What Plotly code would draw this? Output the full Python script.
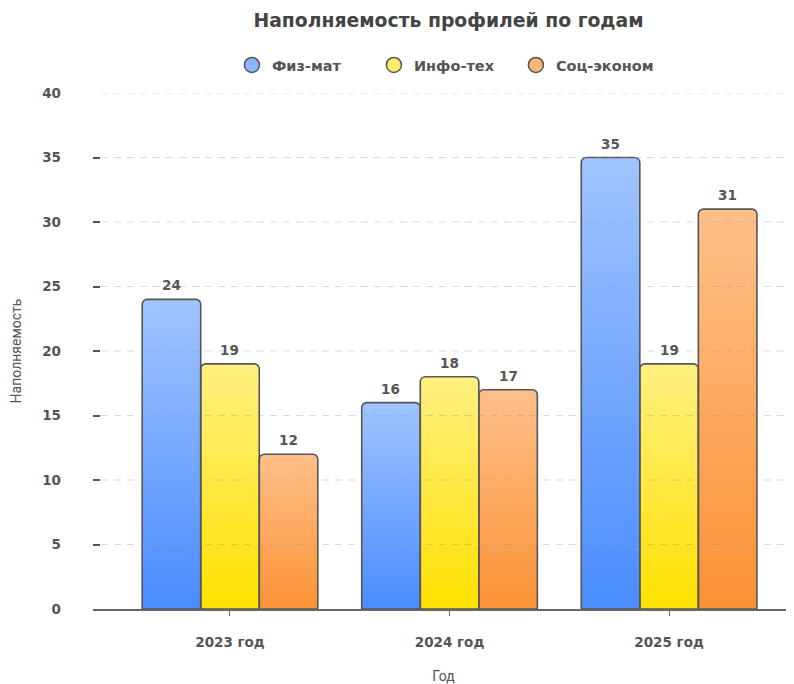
import numpy as np
import plotly.graph_objects as go

# ---------------- data ----------------
years = ["2023 год", "2024 год", "2025 год"]
series_names = ["Физ-мат", "Инфо-тех", "Соц-эконом"]
fizmat = [24, 16, 35]
infotech = [19, 18, 19]
soceco = [12, 17, 31]
y_ticks = [0, 5, 10, 15, 20, 25, 30, 35, 40]

chart_title = "Наполняемость профилей по годам"
x_title = "Год"
y_title = "Наполняемость"

# ---------------- style ----------------
top_colors = ["#a0c4ff", "#fff081", "#ffc08a"]
bottom_colors = ["#4a8cff", "#ffe100", "#fb9235"]
legend_colors = ["#8ab6ff", "#ffec6b", "#ffb478"]
outline = "#555555"
text_col = "#555555"
BOLD_FONT = "DejaVu Sans"
NORM_FONT = "Roboto"
BSIZE = 13.5

W, H = 794, 684
M_L, M_R, M_T, M_B = 85, 8, 85, 83
X_RANGE = [-0.624, 2.569]
Y_RANGE = [0, 40]
BARGAP = 0.2
CORNER_PX = 5

series_vals = [fizmat, infotech, soceco]
x_pos = list(range(len(years)))

plot_w = W - M_L - M_R
plot_h = H - M_T - M_B
x_ppu = plot_w / (X_RANGE[1] - X_RANGE[0])
y_ppu = plot_h / (Y_RANGE[1] - Y_RANGE[0])

fig = go.Figure()

n = len(series_vals)
bw = (1 - BARGAP) / n
rx = CORNER_PX / x_ppu
ry = CORNER_PX / y_ppu
ang = np.linspace(0, np.pi / 2, 8)
annotations = []
for si, vals in enumerate(series_vals):
    for xi, v in zip(x_pos, vals):
        xc = xi + (si - (n - 1) / 2) * bw
        x0, x1 = xc - bw / 2, xc + bw / 2
        lx = list(x0 + rx - rx * np.cos(ang))
        ly = list(v - ry + ry * np.sin(ang))
        rxs = list(x1 - rx + rx * np.sin(ang))
        rys = list(v - ry + ry * np.cos(ang))
        px = [x0] + lx + rxs + [x1, x0]
        py = [0] + ly + rys + [0, 0]
        # gradient fill of the bar (light top -> saturated bottom)
        fig.add_trace(go.Scatter(
            x=px, y=py, mode="lines", line=dict(width=0),
            fill="toself",
            fillgradient=dict(type="vertical",
                              colorscale=[[0, bottom_colors[si]], [1, top_colors[si]]]),
            hoverinfo="skip", showlegend=False,
            xaxis="x", yaxis="y",
        ))
        # value label above the bar
        annotations.append(dict(
            x=xc, y=v, xref="x", yref="y", text=str(v), showarrow=False,
            yanchor="middle", yshift=14,
            font=dict(family=BOLD_FONT, size=BSIZE, color=text_col, weight="bold"),
        ))

# legend entries (circles)
for si, name in enumerate(series_names):
    fig.add_trace(go.Scatter(
        x=[None], y=[None], mode="markers", name=name,
        marker=dict(symbol="circle", size=15, color=legend_colors[si],
                    line=dict(color=outline, width=1.5)),
        xaxis="x", yaxis="y",
    ))

# bars (outline + rounded corners) on overlay axes, above the gradient fills
for si, (name, vals) in enumerate(zip(series_names, series_vals)):
    fig.add_trace(go.Bar(
        x=x_pos, y=vals, name=name, showlegend=False,
        marker=dict(color="rgba(0,0,0,0)", line=dict(color=outline, width=1.6),
                    cornerradius=CORNER_PX),
        hovertemplate="%{y}<extra>" + name + "</extra>",
        xaxis="x2", yaxis="y2",
    ))

# dashed gridlines (drawn above the bars, semi-transparent)
shapes = []
for t in y_ticks[1:]:
    shapes.append(dict(type="line", xref="paper", yref="y", x0=8 / plot_w, x1=1,
                       y0=t, y1=t, layer="above",
                       line=dict(color="rgba(150,150,150,0.35)", width=1.2, dash="7px,6px")))

fig.update_layout(
    width=W, height=H,
    margin=dict(l=M_L, r=M_R, t=M_T, b=M_B, autoexpand=False),
    paper_bgcolor="white", plot_bgcolor="white",
    barmode="group", bargap=BARGAP, bargroupgap=0,
    shapes=shapes, annotations=annotations,
    title=dict(text=chart_title, x=0.5 + 5 / plot_w, xref="paper", xanchor="center",
               y=1 - 12 / H, yref="container", yanchor="middle",
               font=dict(family=BOLD_FONT, size=18.8, color="#444444", weight="bold")),
    legend=dict(orientation="h", x=0.502, xanchor="center", y=1 + 28 / plot_h,
                yanchor="middle",
                font=dict(family=BOLD_FONT, size=14.5, color=text_col, weight="bold"),
                itemsizing="trace", entrywidth=97, entrywidthmode="pixels"),
    xaxis=dict(range=X_RANGE, tickvals=x_pos, ticktext=years,
               showgrid=False, zeroline=False,
               showline=True, linecolor="#666666", linewidth=1.5,
               ticks="outside", ticklen=5, tickcolor="#666666", tickwidth=1.2,
               ticklabelstandoff=15,
               tickfont=dict(family=BOLD_FONT, size=BSIZE, color=text_col, weight="bold"),
               title=dict(text=x_title, standoff=22,
                          font=dict(family=NORM_FONT, size=14, color=text_col)),
               automargin=False, fixedrange=True),
    yaxis=dict(range=Y_RANGE, tickvals=y_ticks, showgrid=False, zeroline=False,
               showline=False,
               ticks="inside", ticklen=7, tickcolor=outline, tickwidth=1.5,
               ticklabelstandoff=31,
               tickfont=dict(family=BOLD_FONT, size=BSIZE, color=text_col, weight="bold"),
               title=dict(text=y_title, standoff=18,
                          font=dict(family=NORM_FONT, size=14, color=text_col)),
               automargin=False, fixedrange=True),
    xaxis2=dict(overlaying="x", matches="x", visible=False, showgrid=False),
    yaxis2=dict(overlaying="y", matches="y", visible=False, showgrid=False),
    showlegend=True,
)

fig.write_html("out.html")
